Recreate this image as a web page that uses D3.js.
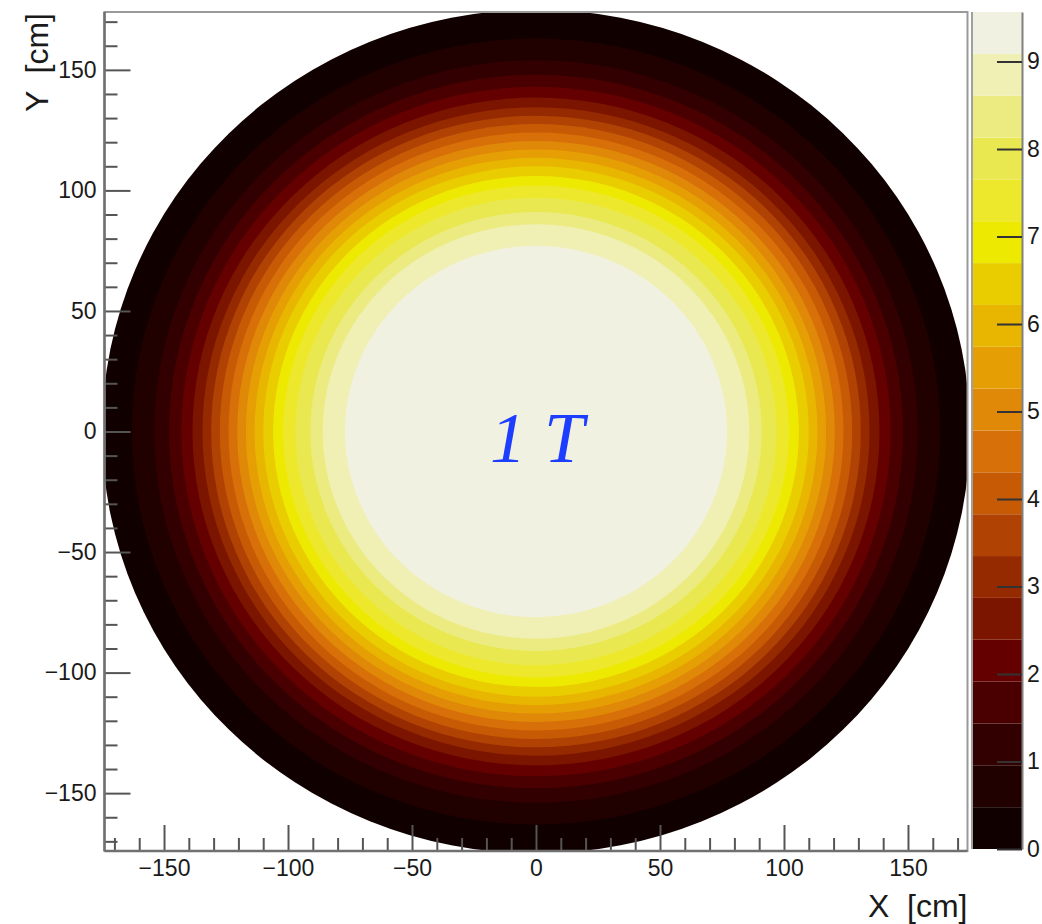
<!DOCTYPE html>
<html>
<head>
<meta charset="utf-8">
<script src="https://d3js.org/d3.v7.min.js"></script>
<style>
  body { margin: 0; background: #ffffff; }
  text { font-family: "Liberation Sans", Arial, sans-serif; fill: #1a1a1a; }
</style>
</head>
<body>
<div id="chart-area"></div>
<script>

// FIELD MAP - |B| CONTOUR BANDS IN THE X-Y PLANE

// Set up frame
const WIDTH = 1042
const HEIGHT = 924
const FRAME = { LEFT: 104.5, RIGHT: 967.5, TOP: 12, BOTTOM: 851 }
const BAR = { LEFT: 972, RIGHT: 1022, TOP: 12, BOTTOM: 849 }

// data
const xDomain = [-174, 174]
const yDomain = [-174, 174]
const xTicks = [-150, -100, -50, 0, 50, 100, 150]
const yTicks = [-150, -100, -50, 0, 50, 100, 150]
const minorTicks = [-170, -160, -140, -130, -120, -110, -90, -80, -70, -60, -40, -30, -20, -10,
    10, 20, 30, 40, 60, 70, 80, 90, 110, 120, 130, 140, 160, 170]
const zMax = 9.566
const zTicks = [0, 1, 2, 3, 4, 5, 6, 7, 8, 9]
// lower edge of each of the 20 contour levels
const levels = [0, 0.478, 0.957, 1.435, 1.913, 2.392, 2.870, 3.348, 3.826, 4.305,
    4.783, 5.261, 5.740, 6.218, 6.696, 7.175, 7.653, 8.131, 8.609, 9.088]
// outer radius [cm] of the region at or above each level
const levelRadius = [175, 163, 154, 148, 143, 138.5, 134.5, 131, 127.5, 124,
    120.5, 117, 113.5, 110, 106, 102, 97, 91, 86, 77]
const levelColors = ["#110000", "#210000", "#320000", "#4a0000", "#650000",
    "#7b1500", "#952900", "#b04204", "#c75b05", "#d77008",
    "#e08808", "#e59f05", "#e8b500", "#e9cd00", "#eee900",
    "#ede82c", "#e9e850", "#eceb82", "#f0efb4", "#f1f1e2"]
const fieldLabel = "1 T"

// Create SVG
const svg = d3.select("#chart-area").append("svg")
    .attr("width", WIDTH)
    .attr("height", HEIGHT)

svg.append("rect")
    .attr("width", WIDTH)
    .attr("height", HEIGHT)
    .attr("fill", "#ffffff")

// scales
const x = d3.scaleLinear()
    .domain(xDomain)
    .range([FRAME.LEFT, FRAME.RIGHT])

const y = d3.scaleLinear()
    .domain(yDomain)
    .range([FRAME.BOTTOM, FRAME.TOP])

const z = d3.scaleLinear()
    .domain([0, zMax])
    .range([BAR.BOTTOM, BAR.TOP])

svg.append("clipPath")
    .attr("id", "frame-clip")
    .append("rect")
    .attr("x", FRAME.LEFT)
    .attr("y", FRAME.TOP)
    .attr("width", FRAME.RIGHT - FRAME.LEFT)
    .attr("height", FRAME.BOTTOM - FRAME.TOP)

// contour bands, outermost first
const bands = svg.append("g")
    .attr("clip-path", "url(#frame-clip)")

bands.selectAll("ellipse")
    .data(levelRadius)
    .enter().append("ellipse")
    .attr("cx", x(0))
    .attr("cy", y(0))
    .attr("rx", r => x(r) - x(0))
    .attr("ry", r => y(0) - y(r))
    .attr("fill", (r, i) => levelColors[i])

// field label
svg.append("text")
    .attr("x", x(0) + 1)
    .attr("y", y(-12.5))
    .attr("text-anchor", "middle")
    .style("font-family", "'Liberation Serif', 'DejaVu Serif', serif")
    .style("font-style", "italic")
    .style("font-size", "72px")
    .style("fill", "#1d3dff")
    .text(fieldLabel)

// frame
svg.append("rect")
    .attr("x", FRAME.LEFT)
    .attr("y", FRAME.TOP)
    .attr("width", FRAME.RIGHT - FRAME.LEFT)
    .attr("height", FRAME.BOTTOM - FRAME.TOP)
    .attr("fill", "none")
    .attr("stroke", "#9a9a9a")
    .attr("stroke-width", 2)

// axes
const fmt = d3.format("d")

const xMinor = svg.append("g")
    .attr("class", "x-axis-minor")
    .attr("transform", `translate(0, ${FRAME.BOTTOM})`)
    .call(d3.axisBottom(x).tickValues(minorTicks).tickSize(-13).tickSizeOuter(0).tickFormat(""))
xMinor.select(".domain").remove()

const xAxis = svg.append("g")
    .attr("class", "x-axis")
    .attr("transform", `translate(0, ${FRAME.BOTTOM})`)
    .call(d3.axisBottom(x).tickValues(xTicks).tickSize(-26).tickSizeOuter(0).tickPadding(9).tickFormat(fmt))
xAxis.select(".domain").remove()

const yMinor = svg.append("g")
    .attr("class", "y-axis-minor")
    .attr("transform", `translate(${FRAME.LEFT}, 0)`)
    .call(d3.axisLeft(y).tickValues(minorTicks).tickSize(-13).tickSizeOuter(0).tickFormat(""))
yMinor.select(".domain").remove()

const yAxis = svg.append("g")
    .attr("class", "y-axis")
    .attr("transform", `translate(${FRAME.LEFT}, 0)`)
    .call(d3.axisLeft(y).tickValues(yTicks).tickSize(-26).tickSizeOuter(0).tickPadding(8).tickFormat(fmt))
yAxis.select(".domain").remove()

svg.selectAll(".tick line")
    .attr("stroke", "#555555")
    .attr("stroke-width", 2)

svg.selectAll(".x-axis text, .y-axis text")
    .attr("font-size", "23px")
    .style("fill", "#1a1a1a")

// axis lines
svg.append("line")
    .attr("x1", FRAME.LEFT).attr("x2", FRAME.RIGHT)
    .attr("y1", FRAME.BOTTOM).attr("y2", FRAME.BOTTOM)
    .attr("stroke", "#707070")
    .attr("stroke-width", 2.5)

svg.append("line")
    .attr("x1", FRAME.LEFT).attr("x2", FRAME.LEFT)
    .attr("y1", FRAME.TOP).attr("y2", FRAME.BOTTOM)
    .attr("stroke", "#707070")
    .attr("stroke-width", 2.5)

// axis titles
svg.append("text")
    .attr("x", FRAME.RIGHT)
    .attr("y", 917)
    .attr("text-anchor", "end")
    .attr("font-size", "32px")
    .attr("xml:space", "preserve")
    .text("X  [cm]")

svg.append("text")
    .attr("transform", `translate(48, ${FRAME.TOP + 1}) rotate(-90)`)
    .attr("text-anchor", "end")
    .attr("font-size", "32px")
    .attr("xml:space", "preserve")
    .text("Y  [cm]")

// colour bar
const bar = svg.append("g").attr("class", "palette")

bar.selectAll("rect")
    .data(levels)
    .enter().append("rect")
    .attr("x", BAR.LEFT)
    .attr("width", BAR.RIGHT - BAR.LEFT)
    .attr("y", (d, i) => z(i < levels.length - 1 ? levels[i + 1] : zMax))
    .attr("height", (d, i) => z(d) - z(i < levels.length - 1 ? levels[i + 1] : zMax))
    .attr("fill", (d, i) => levelColors[i])

bar.append("line")
    .attr("x1", BAR.LEFT).attr("x2", BAR.LEFT)
    .attr("y1", BAR.TOP).attr("y2", BAR.BOTTOM)
    .attr("stroke", "#a0a0a0")
    .attr("stroke-width", 2)

const zAxis = svg.append("g")
    .attr("class", "z-axis")
    .attr("transform", `translate(${BAR.RIGHT}, 0)`)
    .call(d3.axisRight(z).tickValues(zTicks).tickSize(-25).tickSizeOuter(0).tickPadding(5).tickFormat(fmt))

zAxis.select(".domain")
    .attr("stroke", "#808080")
    .attr("stroke-width", 2)

zAxis.selectAll(".tick line")
    .attr("stroke", "#333333")
    .attr("stroke-width", 2)

zAxis.selectAll("text")
    .attr("font-size", "23px")
    .style("fill", "#1a1a1a")

</script>
</body>
</html>
